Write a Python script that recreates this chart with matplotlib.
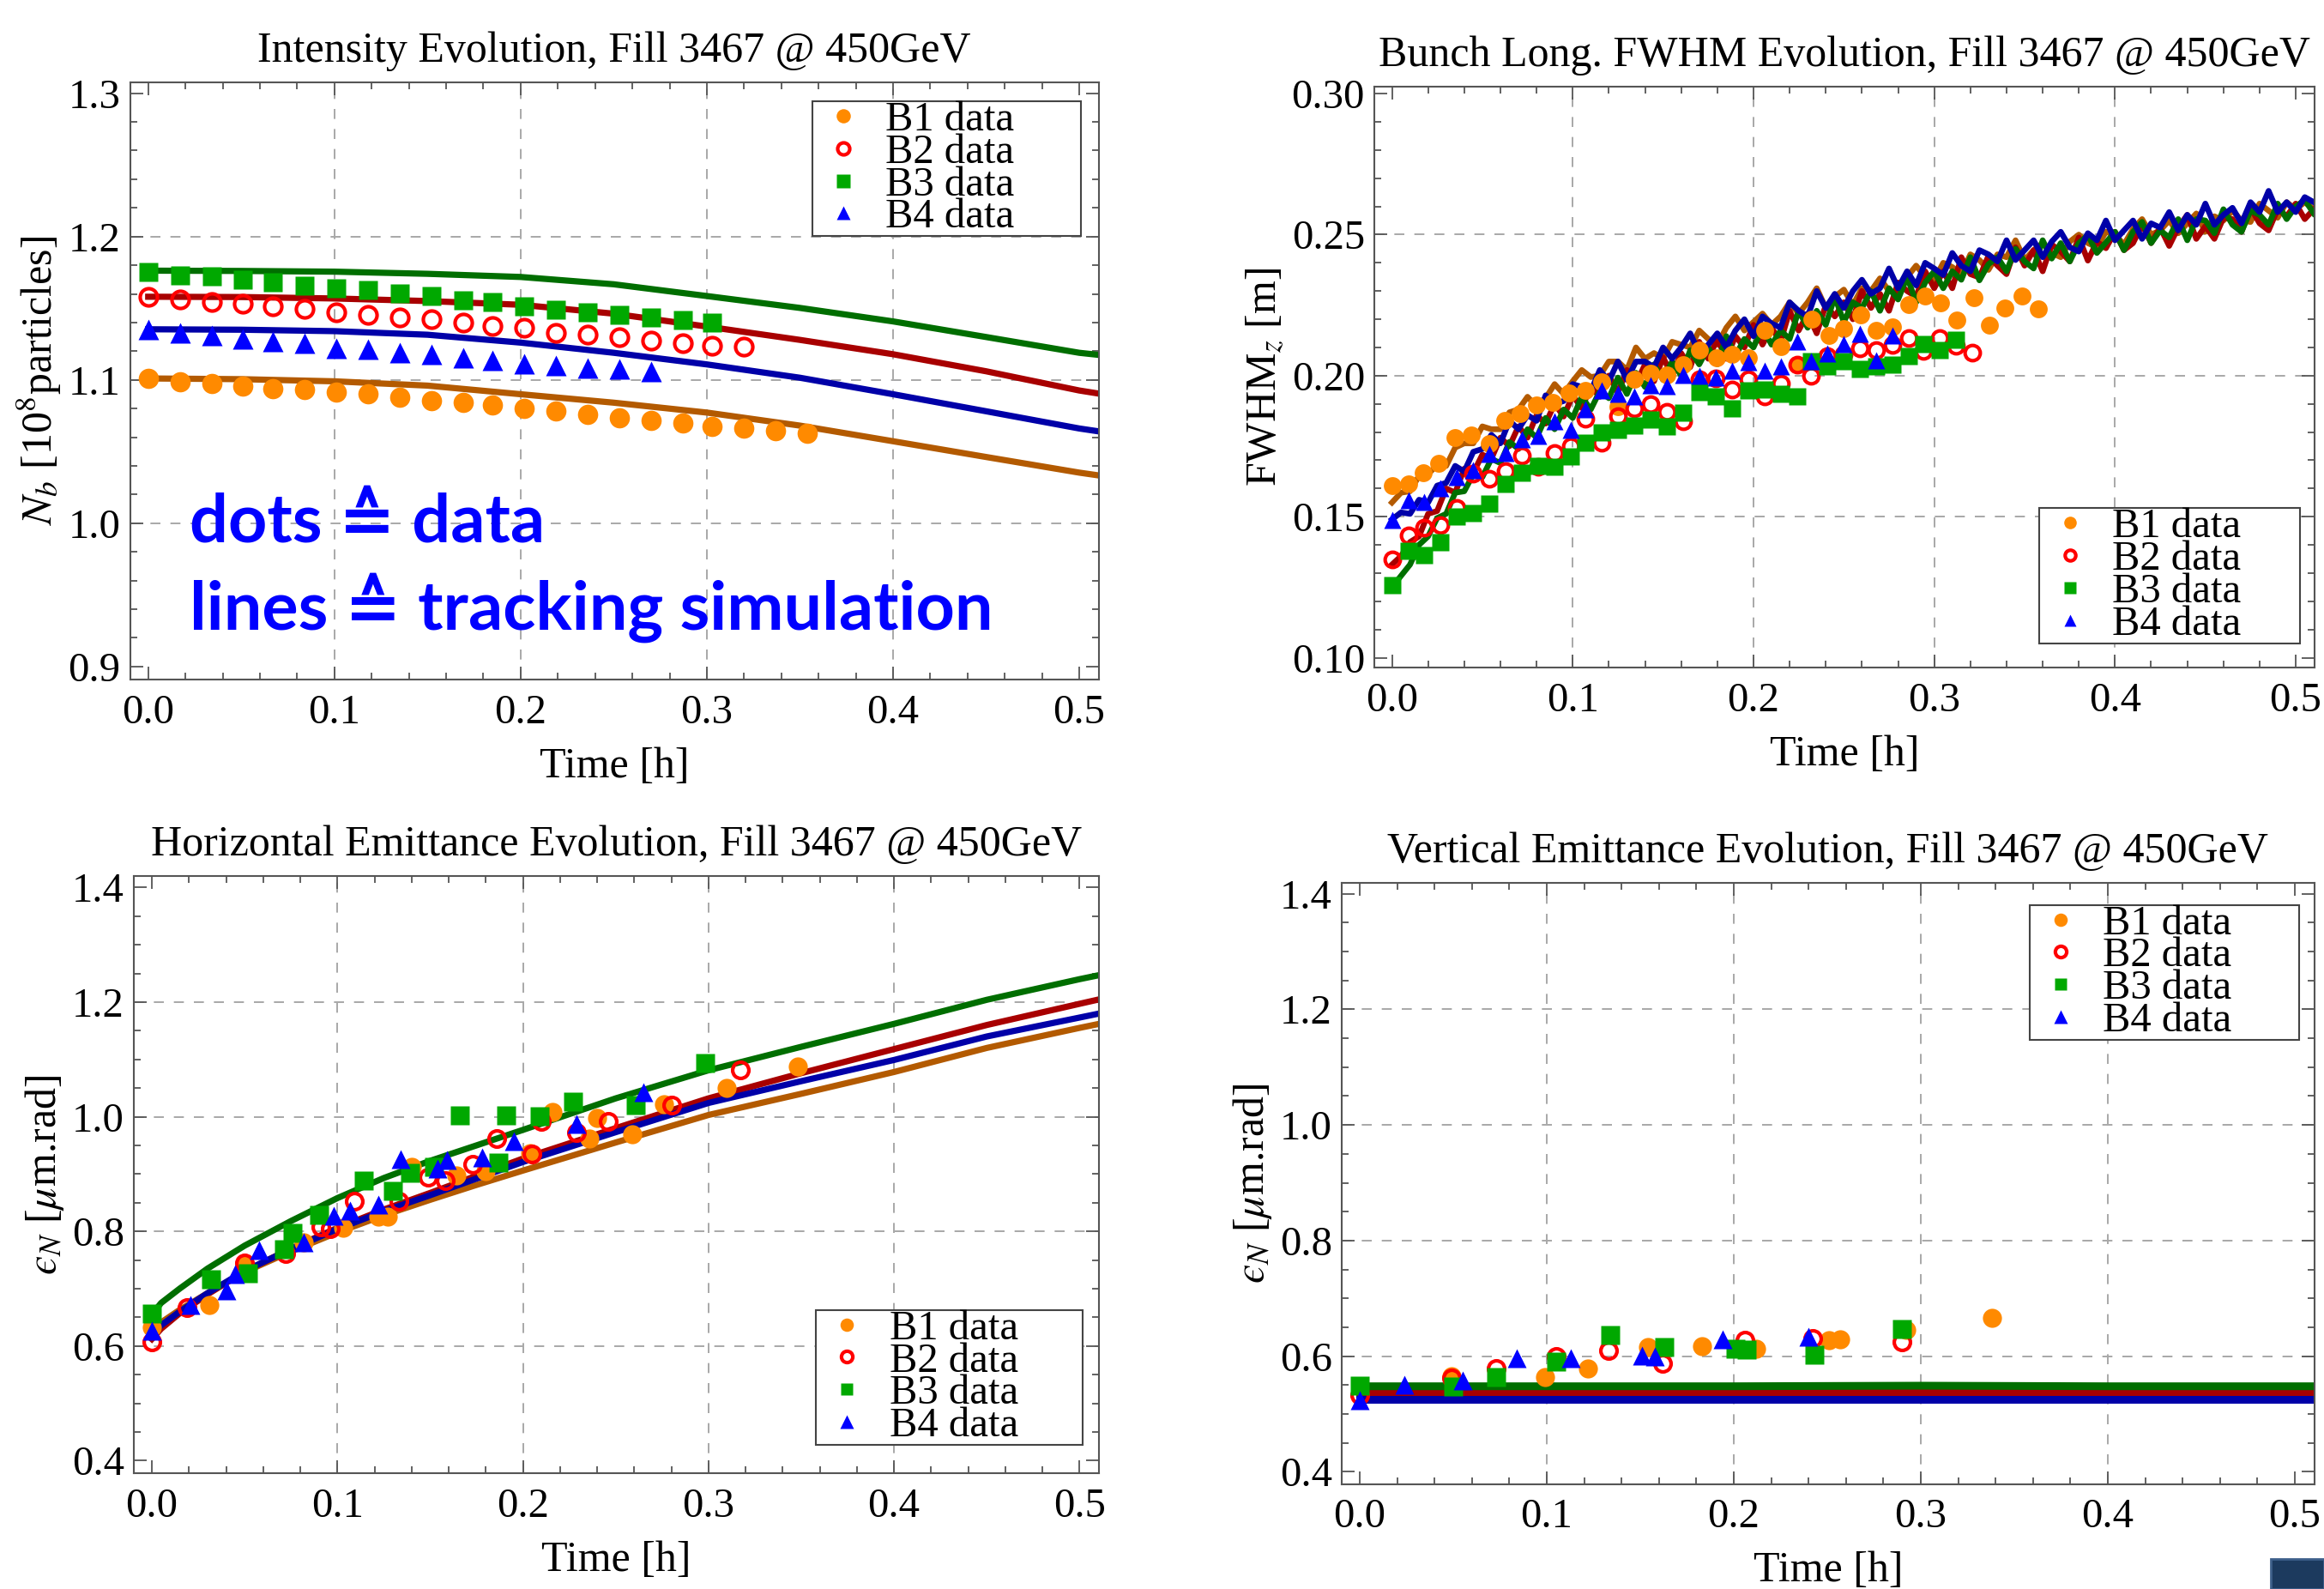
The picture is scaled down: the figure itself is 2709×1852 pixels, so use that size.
"""Fill 3467 @ 450GeV: intensity, bunch length and emittance evolution (data vs tracking)."""
import matplotlib

matplotlib.use("Agg")
import matplotlib.pyplot as plt
import numpy as np
from matplotlib.patches import Rectangle
from matplotlib.ticker import FormatStrFormatter, MultipleLocator

plt.rcParams["font.family"] = ["Liberation Serif", "DejaVu Serif"]
plt.rcParams["mathtext.fontset"] = "stix"

W, H, DPI = 2709, 1852, 100

# marker colours (data) and line colours (simulation)
ORANGE, RED, GREEN, BLUE = "#ff8a00", "#ff0000", "#00a800", "#0000ff"
SIM_COLORS = ["#b35a00", "#a80000", "#006e00", "#0000a8"]  # B1, B2, B3, B4
LABELS = ["B1 data", "B2 data", "B3 data", "B4 data"]
XTICKS = [0.0, 0.1, 0.2, 0.3, 0.4, 0.5]
GRID_X = [0.1, 0.2, 0.3, 0.4]
EPS_LABEL = "$\u03f5_N$ [$\\mu$m.rad]"

# ---------------- intensity [1e8 particles] ----------------
INT_T = [0.0, 0.017, 0.034, 0.051, 0.067, 0.084, 0.101, 0.118, 0.135, 0.152, 0.169,
         0.185, 0.202, 0.219, 0.236, 0.253, 0.270, 0.287, 0.303, 0.320, 0.337, 0.354]
INT_B1 = [1.1010, 1.0984, 1.0976, 1.0958, 1.0940, 1.0930, 1.0916, 1.0900, 1.0876, 1.0857, 1.0845,
          1.0823, 1.0801, 1.0783, 1.0761, 1.0733, 1.0717, 1.0697, 1.0677, 1.0661, 1.0645, 1.0625]
INT_B2 = [1.1582, 1.1562, 1.1544, 1.1530, 1.1512, 1.1496, 1.1472, 1.1452, 1.1438, 1.1422,
          1.1402, 1.1378, 1.1363, 1.1329, 1.1315, 1.1295, 1.1273, 1.1253, 1.1239, 1.1229]
INT_B3 = [1.1755, 1.1731, 1.1721, 1.1701, 1.1683, 1.1655, 1.1639, 1.1625, 1.1604, 1.1584,
          1.1558, 1.1544, 1.1514, 1.1490, 1.1472, 1.1452, 1.1434, 1.1418, 1.1402]
INT_B4 = [1.1349, 1.1329, 1.1309, 1.1283, 1.1269, 1.1253, 1.1223, 1.1215, 1.1189,
          1.1179, 1.1153, 1.1135, 1.1114, 1.1100, 1.1084, 1.1074, 1.1060]
INT_SIM_T = [0.0, 0.05, 0.1, 0.15, 0.2, 0.25, 0.3, 0.35, 0.4, 0.45, 0.5, 0.515]
INT_SIM_B1 = [1.1010, 1.1005, 1.0990, 1.0960, 1.0900, 1.0841, 1.0772, 1.0681, 1.0572, 1.0462, 1.0353, 1.0325]
INT_SIM_B2 = [1.1580, 1.1578, 1.1568, 1.1550, 1.1524, 1.1462, 1.1372, 1.1279, 1.1179, 1.1060, 1.0926, 1.0895]
INT_SIM_B3 = [1.1762, 1.1760, 1.1755, 1.1740, 1.1718, 1.1667, 1.1585, 1.1502, 1.1408, 1.1299, 1.1189, 1.1168]
INT_SIM_B4 = [1.1353, 1.1350, 1.1340, 1.1315, 1.1260, 1.1189, 1.1108, 1.1015, 1.0900, 1.0781, 1.0661, 1.0632]

# ---------------- bunch length FWHM [m] ----------------
FW_T1 = [0.0, 0.009, 0.0175, 0.026, 0.035, 0.044, 0.054, 0.0625, 0.071, 0.080, 0.089, 0.098, 0.107, 0.116,
         0.125, 0.134, 0.143, 0.152, 0.161, 0.170, 0.1795, 0.188, 0.197, 0.206, 0.215, 0.224, 0.2324,
         0.2417, 0.250, 0.2593, 0.2681, 0.2769, 0.2861, 0.2948, 0.3037, 0.3126, 0.3219, 0.3306, 0.3393,
         0.3485, 0.3574]
FW_B1 = [0.161, 0.1615, 0.1655, 0.169, 0.178, 0.179, 0.176, 0.184, 0.1865, 0.1896, 0.1904, 0.1939, 0.1947,
         0.1977, 0.189, 0.1988, 0.2008, 0.2003, 0.2039, 0.209, 0.2064, 0.2075, 0.2064, 0.2162, 0.2102, 0.2039,
         0.2201, 0.2143, 0.2167, 0.2215, 0.216, 0.2172, 0.2251, 0.2282, 0.2259, 0.2198, 0.2275, 0.2179,
         0.2241, 0.2282, 0.2236]
FW_T = [0.0, 0.009, 0.018, 0.027, 0.036, 0.045, 0.054, 0.063, 0.072, 0.081, 0.090, 0.099, 0.107, 0.116,
        0.125, 0.134, 0.143, 0.152, 0.161, 0.170, 0.179, 0.188, 0.197, 0.206, 0.215, 0.224, 0.232, 0.241,
        0.250, 0.259, 0.268, 0.277, 0.286, 0.294, 0.303, 0.312, 0.321]
FW_B2 = [0.1348, 0.1435, 0.1462, 0.147, 0.1531, 0.1654, 0.1633, 0.1663, 0.1715, 0.1677, 0.1727, 0.175,
         0.1846, 0.1762, 0.1855, 0.1885, 0.1899, 0.1872, 0.1837, 0.1986, 0.1990, 0.1951, 0.1986, 0.1926,
         0.1972, 0.2040, 0.2000, 0.2070, 0.2075, 0.2098, 0.2092, 0.2110, 0.2133, 0.2088, 0.2133, 0.2105,
         0.2082]
FW_B3 = [0.1257, 0.138, 0.1364, 0.141, 0.1502, 0.1514, 0.1546, 0.1615, 0.1655, 0.168, 0.1676, 0.1712,
         0.1763, 0.1799, 0.1809, 0.1824, 0.1845, 0.1819, 0.187, 0.1942, 0.1926, 0.1885, 0.1947, 0.1950,
         0.1935, 0.1925, 0.205, 0.2034, 0.2051, 0.2024, 0.2034, 0.2039, 0.207, 0.2111, 0.209, 0.2126]
FW_B4 = [0.1487, 0.1558, 0.1553, 0.160, 0.164, 0.1666, 0.1722, 0.1727, 0.1773, 0.1788, 0.1839, 0.1809,
         0.188, 0.1947, 0.1937, 0.1926, 0.1967, 0.1962, 0.2003, 0.2000, 0.1993, 0.2018, 0.2049, 0.2018,
         0.2034, 0.2121, 0.2052, 0.2078, 0.2111, 0.2147, 0.2054, 0.2143]
# tracking output, one sample every 0.005 h from 0 to 0.51 h
FW_SIM_T = np.linspace(0.0, 0.51, 103)
FW_SIM_B1 = [0.155, 0.1585, 0.159, 0.1645, 0.165, 0.1685, 0.168, 0.1745, 0.176, 0.176,
             0.182, 0.181, 0.181, 0.187, 0.188, 0.1925, 0.189, 0.192, 0.197, 0.1935,
             0.198, 0.202, 0.1995, 0.200, 0.205, 0.205, 0.202, 0.210, 0.206, 0.208,
             0.206, 0.212, 0.211, 0.210, 0.216, 0.213, 0.211, 0.217, 0.221, 0.216,
             0.219, 0.222, 0.218, 0.221, 0.226, 0.222, 0.226, 0.231, 0.224, 0.228,
             0.2305, 0.225, 0.231, 0.230, 0.2345, 0.230, 0.229, 0.235, 0.239, 0.235,
             0.234, 0.240, 0.2385, 0.236, 0.243, 0.241, 0.2375, 0.243, 0.242, 0.248,
             0.241, 0.2445, 0.247, 0.2435, 0.242, 0.2475, 0.250, 0.247, 0.2455, 0.251,
             0.250, 0.2465, 0.252, 0.2555, 0.250, 0.2515, 0.255, 0.2505, 0.254, 0.2575,
             0.251, 0.2565, 0.255, 0.2585, 0.255, 0.2545, 0.261, 0.2585, 0.256, 0.2615,
             0.259, 0.2615, 0.259]
FW_SIM_B2 = [0.133, 0.136, 0.141, 0.143, 0.151, 0.152, 0.160, 0.1585, 0.167, 0.1655,
             0.172, 0.1705, 0.178, 0.175, 0.182, 0.178, 0.186, 0.183, 0.190, 0.1855,
             0.193, 0.1885, 0.196, 0.1925, 0.200, 0.194, 0.202, 0.197, 0.204, 0.198,
             0.2065, 0.200, 0.208, 0.203, 0.212, 0.206, 0.213, 0.206, 0.214, 0.210,
             0.218, 0.211, 0.217, 0.212, 0.223, 0.216, 0.222, 0.215, 0.225, 0.221,
             0.226, 0.220, 0.230, 0.224, 0.229, 0.223, 0.233, 0.230, 0.228, 0.237,
             0.231, 0.237, 0.231, 0.242, 0.236, 0.2348, 0.2425, 0.239, 0.236, 0.2455,
             0.239, 0.2445, 0.237, 0.2465, 0.244, 0.2405, 0.249, 0.2408, 0.2475, 0.2452,
             0.251, 0.2445, 0.247, 0.2535, 0.247, 0.2525, 0.246, 0.2525, 0.257, 0.2485,
             0.253, 0.2485, 0.256, 0.2555, 0.251, 0.2595, 0.254, 0.2515, 0.259, 0.2565,
             0.261, 0.2555, 0.259]
FW_SIM_B3 = [0.125, 0.129, 0.133, 0.140, 0.143, 0.1495, 0.151, 0.1585, 0.159, 0.165,
             0.164, 0.1705, 0.169, 0.1765, 0.174, 0.181, 0.178, 0.185, 0.181, 0.188,
             0.185, 0.1925, 0.188, 0.1945, 0.192, 0.1993, 0.1935, 0.201, 0.196, 0.204,
             0.1985, 0.205, 0.200, 0.209, 0.204, 0.210, 0.204, 0.214, 0.207, 0.213,
             0.210, 0.217, 0.211, 0.216, 0.213, 0.223, 0.217, 0.223, 0.218, 0.228,
             0.219, 0.226, 0.224, 0.230, 0.223, 0.231, 0.227, 0.235, 0.226, 0.233,
             0.237, 0.231, 0.237, 0.234, 0.242, 0.2338, 0.2395, 0.242, 0.237, 0.245,
             0.2405, 0.238, 0.248, 0.2415, 0.247, 0.2405, 0.247, 0.2498, 0.2435, 0.2472,
             0.251, 0.2445, 0.251, 0.2545, 0.247, 0.2515, 0.249, 0.2555, 0.248, 0.2555,
             0.255, 0.2505, 0.259, 0.2535, 0.251, 0.2585, 0.257, 0.2535, 0.261, 0.2555,
             0.260, 0.2623, 0.2575]
FW_SIM_B4 = [0.149, 0.1515, 0.151, 0.156, 0.155, 0.161, 0.162, 0.168, 0.166, 0.173,
             0.174, 0.179, 0.176, 0.184, 0.181, 0.186, 0.184, 0.193, 0.190, 0.191,
             0.197, 0.196, 0.1945, 0.202, 0.198, 0.205, 0.1985, 0.205, 0.205, 0.203,
             0.210, 0.206, 0.210, 0.215, 0.208, 0.211, 0.215, 0.210, 0.216, 0.220,
             0.214, 0.221, 0.2185, 0.217, 0.226, 0.223, 0.221, 0.230, 0.224, 0.229,
             0.224, 0.230, 0.234, 0.229, 0.231, 0.238, 0.231, 0.237, 0.232, 0.240,
             0.238, 0.2357, 0.2435, 0.239, 0.237, 0.2445, 0.243, 0.2405, 0.248, 0.241,
             0.2445, 0.248, 0.242, 0.2475, 0.251, 0.2455, 0.244, 0.2505, 0.248, 0.255,
             0.248, 0.2515, 0.255, 0.2485, 0.254, 0.2525, 0.258, 0.2515, 0.257, 0.2535,
             0.261, 0.2535, 0.257, 0.2595, 0.254, 0.2615, 0.258, 0.2655, 0.258, 0.2615,
             0.258, 0.2633, 0.2615]

# ---------------- horizontal emittance [um.rad] ----------------
EH_T1 = [0.0, 0.031, 0.050, 0.082, 0.103, 0.122, 0.127, 0.140, 0.164, 0.180, 0.204, 0.216, 0.236,
         0.240, 0.259, 0.276, 0.310, 0.348]
EH_B1 = [0.632, 0.672, 0.742, 0.780, 0.806, 0.826, 0.826, 0.912, 0.897, 0.905, 0.936, 1.008, 0.962,
         0.998, 0.969, 1.022, 1.050, 1.088]
EH_T2 = [0.0, 0.019, 0.050, 0.072, 0.091, 0.096, 0.109, 0.133, 0.149, 0.158, 0.173, 0.186, 0.205,
         0.210, 0.229, 0.246, 0.280, 0.317]
EH_B2 = [0.607, 0.667, 0.745, 0.762, 0.807, 0.805, 0.853, 0.852, 0.894, 0.888, 0.917, 0.962, 0.935,
         0.992, 0.972, 0.992, 1.021, 1.082]
EH_T3 = [0.0, 0.032, 0.052, 0.071, 0.076, 0.090, 0.114, 0.130, 0.139, 0.152, 0.166, 0.187, 0.191,
         0.209, 0.227, 0.261, 0.298]
EH_B3 = [0.656, 0.716, 0.727, 0.769, 0.797, 0.828, 0.889, 0.871, 0.902, 0.913, 1.003, 0.920, 1.002,
         1.001, 1.026, 1.020, 1.093]
EH_T4 = [0.0, 0.021, 0.040, 0.045, 0.058, 0.082, 0.098, 0.107, 0.122, 0.134, 0.154, 0.159, 0.178,
         0.195, 0.229, 0.265]
EH_B4 = [0.627, 0.672, 0.697, 0.725, 0.767, 0.780, 0.827, 0.836, 0.847, 0.926, 0.909, 0.924, 0.929,
         0.958, 0.987, 1.042]
EH_SIM_T = [0.0, 0.005, 0.015, 0.03, 0.05, 0.075, 0.10, 0.125, 0.15, 0.175, 0.20, 0.25, 0.30, 0.35,
            0.40, 0.45, 0.50, 0.515]
EH_SIM_B1 = [0.628, 0.641, 0.663, 0.692, 0.729, 0.765, 0.798, 0.828, 0.855, 0.881, 0.906, 0.955,
             1.003, 1.040, 1.078, 1.120, 1.155, 1.165]
EH_SIM_B2 = [0.612, 0.630, 0.657, 0.690, 0.730, 0.770, 0.806, 0.838, 0.867, 0.897, 0.927, 0.980,
             1.032, 1.076, 1.118, 1.160, 1.197, 1.208]
EH_SIM_B3 = [0.655, 0.675, 0.700, 0.735, 0.775, 0.818, 0.858, 0.893, 0.923, 0.950, 0.977, 1.032,
             1.081, 1.122, 1.162, 1.204, 1.240, 1.250]
EH_SIM_B4 = [0.620, 0.636, 0.660, 0.692, 0.731, 0.769, 0.804, 0.835, 0.863, 0.892, 0.921, 0.973,
             1.024, 1.062, 1.099, 1.140, 1.173, 1.183]

# ---------------- vertical emittance [um.rad] ----------------
EV_T1 = [0.049, 0.099, 0.122, 0.154, 0.183, 0.212, 0.251, 0.257, 0.292, 0.338]
EV_B1 = [0.565, 0.564, 0.579, 0.616, 0.618, 0.613, 0.628, 0.629, 0.645, 0.666]
EV_T2 = [0.0, 0.049, 0.073, 0.105, 0.133, 0.162, 0.206, 0.242, 0.290]
EV_B2 = [0.532, 0.563, 0.578, 0.600, 0.610, 0.588, 0.628, 0.631, 0.625]
EV_T3 = [0.0, 0.050, 0.073, 0.105, 0.134, 0.163, 0.201, 0.207, 0.243, 0.290]
EV_B3 = [0.549, 0.547, 0.564, 0.591, 0.637, 0.616, 0.613, 0.611, 0.603, 0.647]
EV_T4 = [0.0, 0.024, 0.055, 0.084, 0.113, 0.151, 0.158, 0.194, 0.240]
EV_B4 = [0.524, 0.550, 0.558, 0.596, 0.596, 0.601, 0.600, 0.629, 0.634]
EV_SIM_T = [0.0, 0.1, 0.2, 0.3, 0.4, 0.515]
EV_SIM_B1 = [0.534, 0.534, 0.534, 0.534, 0.534, 0.534]
EV_SIM_B2 = [0.538, 0.538, 0.538, 0.538, 0.538, 0.538]
EV_SIM_B3 = [0.548, 0.548, 0.548, 0.549, 0.548, 0.548]
EV_SIM_B4 = [0.526, 0.526, 0.526, 0.526, 0.526, 0.526]


def _frame(ax, ylim, ymajor, yminor, yfmt, ygrid):
    ax.set_xlim(-0.0097, 0.5105)
    ax.set_ylim(*ylim)
    ax.set_xticks(XTICKS)
    ax.xaxis.set_minor_locator(MultipleLocator(0.02))
    ax.yaxis.set_major_locator(MultipleLocator(ymajor))
    ax.yaxis.set_minor_locator(MultipleLocator(yminor))
    ax.xaxis.set_major_formatter(FormatStrFormatter("%.1f"))
    ax.yaxis.set_major_formatter(FormatStrFormatter(yfmt))
    ax.tick_params(which="both", direction="in", top=True, right=True, color="#555555", width=1.3)
    ax.tick_params(which="major", length=11, labelsize=35)
    ax.tick_params(which="minor", length=6)
    ax.tick_params(axis="x", which="major", pad=12)
    ax.tick_params(axis="y", which="major", pad=8)
    for s in ax.spines.values():
        s.set_color("#555555")
        s.set_linewidth(1.5)
    for gx in GRID_X:
        ax.axvline(gx, color="#a8a8a8", lw=1.4, ls=(0, (6, 6)), zorder=0.5)
    for gy in ygrid:
        ax.axhline(gy, color="#a8a8a8", lw=1.4, ls=(0, (6, 6)), zorder=0.5)


def _texts(ax, title, ylabel, ylab_dx):
    ax.annotate(title, xy=(0.5, 1), xycoords="axes fraction", xytext=(0, 26),
                textcoords="offset points", ha="center", va="center", fontsize=36)
    ax.annotate("Time [h]", xy=(0.5, 0), xycoords="axes fraction", xytext=(0, -73),
                textcoords="offset points", ha="center", va="center", fontsize=36)
    ax.annotate(ylabel, xy=(0, 0.5), xycoords="axes fraction", xytext=(ylab_dx, 0),
                textcoords="offset points", ha="center", va="center", rotation=90, fontsize=36)


def _series(ax, sim_t, sims, data, lw, ms):
    for ys, c in zip(sims, SIM_COLORS):
        ax.plot(sim_t, ys, color=c, lw=lw, solid_joinstyle="round", zorder=2)
    (t1, b1), (t2, b2), (t3, b3), (t4, b4) = data
    h1, = ax.plot(t1, b1, "o", color=ORANGE, ms=ms, mec="none", zorder=3)
    h2, = ax.plot(t2, b2, "o", mfc="none", mec=RED, ms=ms * 0.85, mew=3.0, zorder=3)
    h3, = ax.plot(t3, b3, "s", color=GREEN, ms=ms * 0.95, mec="none", zorder=3)
    h4, = ax.plot(t4, b4, "^", color=BLUE, ms=ms, mec="none", zorder=3)
    return [h1, h2, h3, h4]


def _legend(ax, handles, loc, anchor):
    leg = ax.legend(handles, LABELS, loc=loc, bbox_to_anchor=anchor, mode="expand", borderaxespad=0,
                    fontsize=35, labelspacing=-0.13, handlelength=1.48, handletextpad=0.27,
                    borderpad=0.0, fancybox=False, framealpha=1, edgecolor="#444444", markerscale=0.7)
    leg.get_frame().set_linewidth(1.5)
    leg.set_zorder(5)


fig = plt.figure(figsize=(W / DPI, H / DPI), dpi=DPI)

# intensity
ax1 = fig.add_axes([0.0560, 0.5724, 0.4168, 0.3758])
_frame(ax1, (0.891, 1.3076), 0.1, 0.02, "%.1f", [1.0, 1.1, 1.2])
hs = _series(ax1, INT_SIM_T, [INT_SIM_B1, INT_SIM_B2, INT_SIM_B3, INT_SIM_B4],
             [(INT_T[:len(INT_B1)], INT_B1), (INT_T[:len(INT_B2)], INT_B2),
              (INT_T[:len(INT_B3)], INT_B3), (INT_T[:len(INT_B4)], INT_B4)], lw=5.2, ms=17)
_legend(ax1, hs, "upper left", (0.704, 0.968, 0.278, 0))
_texts(ax1, "Intensity Evolution, Fill 3467 @ 450GeV", r"$N_b$ [10$^8$particles]", -76)
ax1.text(0.061, 0.231, "dots \u2259 data", transform=ax1.transAxes, fontsize=57, fontweight="bold",
         color=BLUE, family=["Lato", "DejaVu Sans"], va="baseline")
ax1.text(0.061, 0.084, "lines \u2259 tracking simulation", transform=ax1.transAxes, fontsize=57,
         fontweight="bold", color=BLUE, family=["Lato", "DejaVu Sans"], va="baseline")

# bunch length
ax2 = fig.add_axes([0.5914, 0.5799, 0.4046, 0.3658])
_frame(ax2, (0.0965, 0.3026), 0.05, 0.01, "%.2f", [0.15, 0.20, 0.25])
hs = _series(ax2, FW_SIM_T, [FW_SIM_B1, FW_SIM_B2, FW_SIM_B3, FW_SIM_B4],
             [(FW_T1, FW_B1), (FW_T[:len(FW_B2)], FW_B2), (FW_T[:len(FW_B3)], FW_B3),
              (FW_T[:len(FW_B4)], FW_B4)], lw=4.8, ms=15)
_legend(ax2, hs, "lower left", (0.707, 0.042, 0.277, 0))
_texts(ax2, "Bunch Long. FWHM Evolution, Fill 3467 @ 450GeV", r"FWHM$_z$ [m]", -92)

# horizontal emittance
ax3 = fig.add_axes([0.0576, 0.0729, 0.4153, 0.3758])
_frame(ax3, (0.378, 1.420), 0.2, 0.05, "%.1f", [0.6, 0.8, 1.0, 1.2])
hs = _series(ax3, EH_SIM_T, [EH_SIM_B1, EH_SIM_B2, EH_SIM_B3, EH_SIM_B4],
             [(EH_T1, EH_B1), (EH_T2, EH_B2), (EH_T3, EH_B3), (EH_T4, EH_B4)], lw=5.2, ms=16)
_legend(ax3, hs, "lower left", (0.707, 0.0475, 0.276, 0))
_texts(ax3, "Horizontal Emittance Evolution, Fill 3467 @ 450GeV", EPS_LABEL, -75)

# vertical emittance
ax4 = fig.add_axes([0.5773, 0.0661, 0.4186, 0.3784])
_frame(ax4, (0.379, 1.419), 0.2, 0.05, "%.1f", [0.6, 0.8, 1.0, 1.2])
hs = _series(ax4, EV_SIM_T, [EV_SIM_B1, EV_SIM_B2, EV_SIM_B3, EV_SIM_B4],
             [(EV_T1, EV_B1), (EV_T2, EV_B2), (EV_T3, EV_B3), (EV_T4, EV_B4)], lw=6.5, ms=16)
_legend(ax4, hs, "upper left", (0.707, 0.963, 0.277, 0))
_texts(ax4, "Vertical Emittance Evolution, Fill 3467 @ 450GeV", EPS_LABEL, -75)

# slide navigation button in the corner
fig.add_artist(Rectangle((2647 / W, 0), (W - 2647) / W, 35 / H, transform=fig.transFigure,
                         facecolor="#1c3a5e", edgecolor="#3d5f8a", lw=2))

fig.savefig("out.png", dpi=DPI)
plt.close(fig)
